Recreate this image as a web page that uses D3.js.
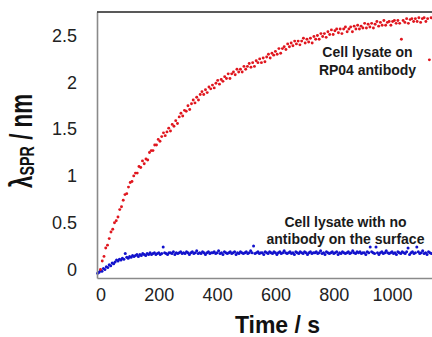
<!DOCTYPE html>
<html><head><meta charset="utf-8">
<script src="https://cdn.jsdelivr.net/npm/d3@7"></script>
<style>body{margin:0;background:#fff}svg{display:block}text{font-family:"Liberation Sans",Arial,sans-serif}</style>
</head><body><svg id="c" width="432" height="337"></svg>
<script>
const xTicks=[0,200,400,600,800,1000];
const yTicks=[0,0.5,1,1.5,2,2.5];
const xTitle="Time / s";
const redLabel=["Cell lysate on","RP04 antibody"];
const blueLabel=["Cell lysate with no","antibody on the surface"];
// red series: Cell lysate on RP04 antibody (sampled every 6 s from t = 0)
const redStart=0, redStep=6;
const redValues=[0.00,0.09,0.14,0.23,0.26,0.33,0.40,0.43,0.50,0.52,
0.56,0.64,0.67,0.74,0.80,0.81,0.88,0.93,0.94,1.00,
1.03,1.03,1.10,1.09,1.16,1.13,1.18,1.17,1.25,1.27,
1.27,1.33,1.33,1.39,1.37,1.42,1.46,1.43,1.47,1.51,
1.48,1.55,1.53,1.59,1.56,1.63,1.67,1.64,1.70,1.69,
1.75,1.71,1.77,1.81,1.78,1.84,1.81,1.87,1.90,1.87,
1.92,1.89,1.95,1.93,1.97,1.94,1.99,2.02,1.98,2.03,
2.01,2.06,2.04,2.09,2.04,2.09,2.11,2.08,2.14,2.11,
2.14,2.11,2.17,2.14,2.17,2.20,2.16,2.21,2.17,2.23,
2.21,2.25,2.21,2.26,2.22,2.27,2.30,2.26,2.31,2.29,
2.33,2.30,2.36,2.31,2.36,2.38,2.35,2.41,2.38,2.42,
2.39,2.44,2.41,2.44,2.40,2.44,2.47,2.42,2.46,2.43,
2.47,2.42,2.49,2.46,2.50,2.46,2.52,2.49,2.52,2.48,
2.54,2.51,2.56,2.51,2.55,2.57,2.53,2.57,2.52,2.57,
2.59,2.54,2.57,2.59,2.54,2.60,2.57,2.61,2.57,2.60,
2.58,2.63,2.58,2.62,2.59,2.63,2.58,2.62,2.65,2.60,
2.64,2.61,2.66,2.61,2.64,2.65,2.61,2.65,2.66,2.63,
2.66,2.63,2.46,2.66,2.64,2.68,2.63,2.67,2.68,2.65,
2.68,2.65,2.69,2.64,2.68,2.69,2.65,2.68,2.24,2.69];
// blue series: Cell lysate with no antibody (sampled every 5 s from t = -10)
const blueStart=-10, blueStep=5;
const blueValues=[-0.04,-0.03,-0.01,-0.02,0.01,0.00,0.03,0.02,0.05,0.04,
0.07,0.06,0.08,0.10,0.09,0.11,0.10,0.12,0.11,0.17,
0.13,0.12,0.14,0.13,0.15,0.14,0.15,0.16,0.14,0.16,
0.15,0.17,0.16,0.15,0.17,0.16,0.18,0.16,0.17,0.18,
0.16,0.17,0.18,0.16,0.17,0.24,0.18,0.17,0.16,0.18,
0.18,0.17,0.19,0.16,0.18,0.17,0.18,0.19,0.17,0.18,
0.17,0.19,0.18,0.16,0.18,0.19,0.17,0.18,0.20,0.17,
0.18,0.17,0.19,0.18,0.16,0.18,0.19,0.17,0.18,0.18,
0.19,0.17,0.18,0.20,0.17,0.18,0.16,0.19,0.18,0.17,
0.18,0.19,0.17,0.18,0.19,0.16,0.18,0.17,0.19,0.18,
0.17,0.18,0.19,0.17,0.18,0.20,0.18,0.25,0.17,0.18,
0.19,0.17,0.18,0.18,0.16,0.19,0.18,0.17,0.19,0.18,
0.17,0.19,0.18,0.16,0.18,0.19,0.17,0.18,0.20,0.18,
0.17,0.18,0.19,0.17,0.18,0.16,0.19,0.18,0.17,0.19,
0.18,0.17,0.19,0.18,0.16,0.18,0.19,0.17,0.18,0.18,
0.19,0.17,0.18,0.20,0.17,0.18,0.16,0.19,0.18,0.17,
0.18,0.19,0.17,0.18,0.19,0.16,0.18,0.17,0.19,0.18,
0.17,0.18,0.19,0.17,0.18,0.20,0.18,0.17,0.19,0.18,
0.19,0.17,0.18,0.18,0.16,0.19,0.18,0.24,0.19,0.18,
0.17,0.24,0.18,0.16,0.18,0.19,0.17,0.18,0.20,0.18,
0.17,0.18,0.19,0.17,0.18,0.16,0.19,0.18,0.17,0.19,
0.18,0.17,0.19,0.23,0.16,0.18,0.19,0.17,0.18,0.24,
0.19,0.17,0.18,0.20,0.17,0.18,0.16,0.19,0.18,0.17];

const redData=redValues.map((v,i)=>({t:redStart+i*redStep,v}));
const blueData=blueValues.map((v,i)=>({t:blueStart+i*blueStep,v}));

const svg=d3.select("#c");
const x=d3.scaleLinear().domain([-12,1137]).range([97,432]);
const y=d3.scaleLinear().domain([-0.091,2.751]).range([278,12]);

// points
svg.append("g").selectAll("circle").data(blueData).join("circle")
  .attr("cx",d=>x(d.t)).attr("cy",d=>y(d.v)).attr("r",1.5).attr("fill","#1212cc");
svg.append("g").selectAll("circle").data(redData).join("circle")
  .attr("cx",d=>x(d.t)).attr("cy",d=>y(d.v)).attr("r",1.45).attr("fill","#e0161e");

// axes
const ya=svg.append("g").attr("transform",`translate(${x.range()[0]},0)`)
  .call(d3.axisLeft(y).tickValues(yTicks).tickSize(0).tickSizeOuter(0).tickPadding(20).tickFormat(d3.format("")));
const xa=svg.append("g").attr("transform",`translate(0,${y.range()[0]})`)
  .call(d3.axisBottom(x).tickValues(xTicks).tickSize(0).tickSizeOuter(0).tickPadding(10).tickFormat(d3.format("")));
[ya,xa].forEach(a=>{
  a.select(".domain").attr("stroke","#8a8a8a").attr("stroke-width",1.6);
  a.selectAll("text").attr("font-size",18).attr("fill","#222").attr("font-family","'Liberation Sans',Arial,sans-serif");
});
// top frame line
svg.append("line").attr("x1",x.range()[0]).attr("x2",x.range()[1]).attr("y1",y.range()[1]).attr("y2",y.range()[1])
  .attr("stroke","#222").attr("stroke-width",1.5);

// x title
svg.append("text").attr("x",277.5).attr("y",333).attr("text-anchor","middle")
  .attr("font-size",23).attr("font-weight","bold").attr("fill","#111").text(xTitle);
// y title
const yt=svg.append("text").attr("transform","translate(32,141) rotate(-90) scale(0.72,1)")
  .attr("text-anchor","middle").attr("font-size",31).attr("font-weight","bold").attr("fill","#111");
yt.append("tspan").text("λ");
yt.append("tspan").attr("font-size",20).attr("dy",2).text("SPR");
yt.append("tspan").attr("dy",-2).text(" / nm");

// annotations
const ann=(lines,cx,b0,b1)=>{
  [b0,b1].forEach((b,i)=>svg.append("text").attr("x",cx).attr("y",b).attr("text-anchor","middle")
    .attr("font-size",14).attr("font-weight","bold").attr("fill","#1a1a1a").text(lines[i]));
};
ann(redLabel,367.5,57,75);
ann(blueLabel,345.5,227,243.5);
</script></body></html>
